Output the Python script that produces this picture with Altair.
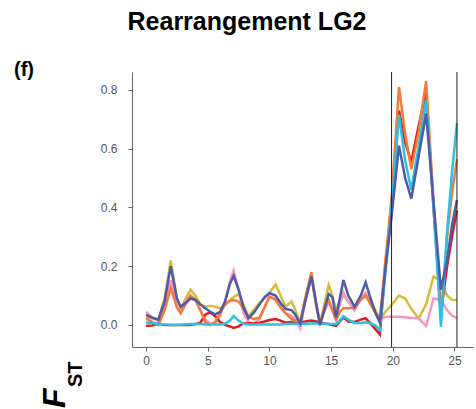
import altair as alt
import pandas as pd

# ---- data ----
X = [0, 0.5, 1.0, 1.5, 2.0, 2.5, 2.8, 3.2, 3.6, 4.0, 4.4, 4.8, 5.2, 5.6, 6.0, 6.4, 6.8, 7.1, 7.5, 7.9,
     8.3, 8.7, 9.2, 9.6, 10.0, 10.5, 10.9, 11.3, 11.8, 12.1, 12.5, 12.9, 13.4, 13.8, 14.1, 14.5, 14.8, 15.1, 15.4, 15.7,
     16.0, 16.4, 16.9, 17.4, 17.8, 18.2, 18.6, 18.95, 19.4, 19.9, 20.5, 21.0, 21.5, 22.1, 22.7, 23.3, 23.9, 24.4, 24.8, 25.2]

YELLOW = [0.028, 0.022, 0.02, 0.09, 0.22, 0.09, 0.057, 0.09, 0.12, 0.10, 0.07, 0.062, 0.065, 0.062, 0.057, 0.068, 0.085, 0.095, 0.105, 0.07,
          0.03, 0.05, 0.075, 0.09, 0.11, 0.138, 0.10, 0.062, 0.08, 0.05, 0.006, 0.09, 0.17, 0.06, 0.005, 0.08, 0.136, 0.10, 0.05, 0.08,
          0.102, 0.08, 0.057, 0.09, 0.10, 0.08, 0.05, 0.02, 0.045, 0.068, 0.10, 0.09, 0.055, 0.022, 0.07, 0.165, 0.15, 0.10, 0.086, 0.085]

PINK = [0.045, 0.025, 0.012, 0.07, 0.153, 0.06, 0.045, 0.08, 0.10, 0.085, 0.05, 0.02, 0.005, 0.005, 0.03, 0.08, 0.15, 0.185, 0.12, 0.04,
        0.01, 0.005, 0.02, 0.06, 0.096, 0.09, 0.06, 0.04, 0.03, 0.02, -0.011, 0.08, 0.165, 0.07, 0.005, 0.05, 0.08, 0.05, 0.03, 0.068,
        0.11, 0.08, 0.05, 0.09, 0.11, 0.08, 0.04, 0.02, 0.028, 0.028, 0.028, 0.026, 0.024, 0.022, -0.003, 0.09, 0.085, 0.05, 0.032, 0.023]

RED = [-0.003, -0.002, 0.005, 0.0, 0.0, 0.0, 0.0, 0.0, 0.0, 0.003, 0.008, 0.035, 0.043, 0.03, 0.01, 0.0, -0.005, -0.01, -0.005, 0.005,
       0.006, 0.005, 0.008, 0.012, 0.017, 0.02, 0.015, 0.008, 0.01, 0.008, 0.008, 0.012, 0.015, 0.012, 0.008, 0.005, 0.003, 0.0, -0.003, 0.012,
       0.025, 0.012, 0.01, 0.018, 0.023, 0.005, -0.015, -0.032, 0.20, 0.42, 0.73, 0.62, 0.556, 0.68, 0.79, 0.40, 0.04, 0.20, 0.30, 0.39]

ORANGE = [0.023, 0.01, 0.0, 0.05, 0.125, 0.06, 0.04, 0.07, 0.10, 0.085, 0.05, 0.01, 0.0, 0.01, 0.04, 0.07, 0.082, 0.085, 0.08, 0.055,
          0.028, 0.02, 0.025, 0.06, 0.096, 0.085, 0.06, 0.04, 0.02, 0.015, 0.01, 0.09, 0.18, 0.07, 0.005, 0.06, 0.085, 0.05, 0.017, 0.045,
          0.057, 0.057, 0.057, 0.085, 0.10, 0.07, 0.04, 0.017, 0.22, 0.43, 0.81, 0.65, 0.53, 0.66, 0.83, 0.42, 0.025, 0.30, 0.45, 0.564]

CYAN = [0.009, 0.006, 0.004, 0.002, 0.0, 0.0, 0.001, 0.002, 0.003, 0.003, 0.003, 0.002, 0.002, 0.002, 0.002, 0.004, 0.015, 0.03, 0.015, 0.003,
        0.002, 0.002, 0.002, 0.002, 0.002, 0.002, 0.002, 0.003, 0.004, 0.004, 0.004, 0.004, 0.005, 0.005, 0.004, 0.004, 0.003, 0.003, 0.003, 0.015,
        0.03, 0.018, 0.007, 0.007, 0.009, 0.006, -0.002, -0.017, 0.18, 0.40, 0.715, 0.56, 0.46, 0.61, 0.766, 0.40, -0.006, 0.32, 0.52, 0.687]

BLUE = [0.034, 0.025, 0.018, 0.08, 0.20, 0.09, 0.062, 0.075, 0.09, 0.085, 0.07, 0.057, 0.045, 0.036, 0.045, 0.08, 0.14, 0.167, 0.12, 0.06,
        0.023, 0.04, 0.07, 0.095, 0.108, 0.10, 0.075, 0.055, 0.05, 0.035, 0.005, 0.08, 0.165, 0.07, 0.0, 0.06, 0.105, 0.095, 0.025, 0.09,
        0.153, 0.10, 0.062, 0.10, 0.145, 0.09, 0.04, 0.008, 0.19, 0.37, 0.61, 0.50, 0.43, 0.575, 0.72, 0.42, 0.12, 0.22, 0.34, 0.425]

SERIES = [("yellow", YELLOW, "#d4bd3c"), ("pink", PINK, "#f397c4"), ("red", RED, "#d81e1e"),
          ("orange", ORANGE, "#f47a3a"), ("cyan", CYAN, "#2bc1e4"), ("blue", BLUE, "#4f5aa8")]

VLINES = [19.9, 25.2]
X_TICKS = [0, 5, 10, 15, 20, 25]
Y_TICKS = [0.0, 0.2, 0.4, 0.6, 0.8]

W, H = 341, 275
xscale = alt.Scale(domain=[-1.14, 26.5], nice=False, zero=False)
yscale = alt.Scale(domain=[-0.075, 0.861], nice=False, zero=False)

xaxis = alt.Axis(values=X_TICKS, title=None, grid=False, tickSize=4, labelPadding=4,
                 labelFontSize=12, labelColor="#555", domainColor="#666", tickColor="#666",
                 labelFont="Liberation Sans", labelFlush=False)
yaxis = alt.Axis(values=Y_TICKS, format=".1f", title=None, grid=False, tickSize=4, labelPadding=11,
                 labelFontSize=12, labelColor="#555", domainColor="#666", tickColor="#666",
                 labelFont="Liberation Sans")

layers = []
for name, vals, col in SERIES:
    df = pd.DataFrame({"x": X, "y": vals})
    ch = alt.Chart(df).mark_line(color=col, strokeWidth=2.5, interpolate="linear").encode(
        x=alt.X("x:Q", scale=xscale, axis=xaxis),
        y=alt.Y("y:Q", scale=yscale, axis=yaxis),
    )
    layers.append(ch)

rules = alt.Chart(pd.DataFrame({"x": VLINES})).mark_rule(color="#222", strokeWidth=1).encode(
    x=alt.X("x:Q", scale=xscale, axis=xaxis)
)

one = pd.DataFrame({"t": [0]})
title = alt.Chart(one).mark_text(text="Rearrangement LG2", font="Liberation Sans", fontSize=25,
                                 fontWeight="bold", align="center", baseline="alphabetic", color="#000").encode(
    x=alt.value(115), y=alt.value(-42))
panel = alt.Chart(one).mark_text(text="(f)", font="Liberation Sans", fontSize=20,
                                 fontWeight="bold", align="left", baseline="alphabetic", color="#000").encode(
    x=alt.value(-118), y=alt.value(4))
fl = alt.Chart(one).mark_text(text="F", font="Liberation Sans", fontSize=32, fontWeight="bold",
                              fontStyle="italic", angle=270, align="left", baseline="alphabetic", color="#000").encode(
    x=alt.value(-67), y=alt.value(336))
st = alt.Chart(one).mark_text(text="ST", font="Liberation Sans", fontSize=20, fontWeight="bold",
                              angle=270, align="left", baseline="alphabetic", color="#000").encode(
    x=alt.value(-50), y=alt.value(315))

chart = alt.layer(*layers, rules, title, panel, fl, st).properties(
    width=W, height=H,
    background="white",
    autosize=alt.AutoSizeParams(type="none"),
    padding={"left": 132, "top": 72, "right": 3, "bottom": 62},
).configure_view(stroke=None)

chart.save("out.html", embed_options={"renderer": "svg", "actions": False})
